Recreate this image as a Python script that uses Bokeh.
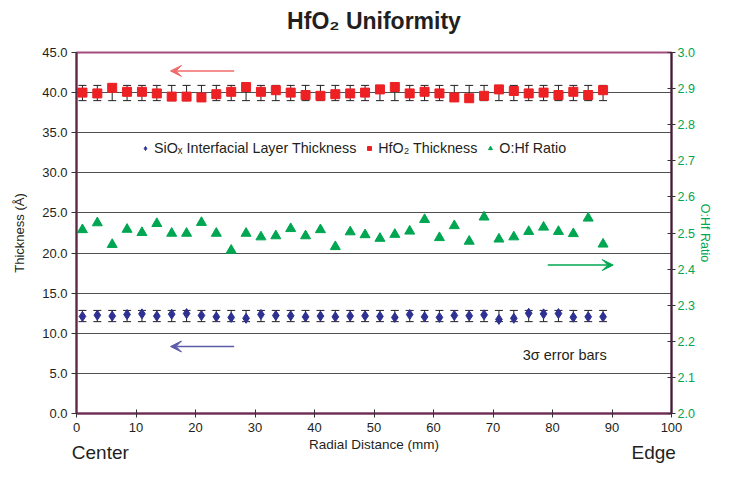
from bokeh.plotting import figure
from bokeh.models import (Range1d, LinearAxis, FixedTicker, Whisker, TeeHead, ColumnDataSource,
                          Legend, LegendItem, Arrow, VeeHead, Label, NumeralTickFormatter, Title)
from bokeh.embed import file_html
from bokeh.resources import INLINE

# ---- data ----
radial_mm = [1.0, 3.5, 6.0, 8.5, 11.0, 13.5, 16.0, 18.5, 21.0, 23.5, 26.0, 28.5,
             31.0, 33.5, 36.0, 38.5, 41.0, 43.5, 46.0, 48.5, 51.0, 53.5, 56.0, 58.5,
             61.0, 63.5, 66.0, 68.5, 71.0, 73.5, 76.0, 78.5, 81.0, 83.5, 86.0, 88.5]

hfo2_thickness = [40.0, 39.9, 40.6, 40.1, 40.1, 39.9, 39.5, 39.5, 39.4, 39.8, 40.1, 40.7,
                  40.1, 40.3, 40.0, 39.7, 39.6, 39.8, 39.9, 40.0, 40.4, 40.7, 39.9, 40.1,
                  39.9, 39.4, 39.3, 39.6, 40.4, 40.2, 39.9, 40.0, 39.7, 40.1, 39.7, 40.3]
hfo2_err_lo = [39.0, 39.0, 39.0, 39.0, 39.0, 39.0, 39.0, 39.0, 39.0, 39.0, 39.0, 39.0,
               39.0, 39.0, 39.0, 39.0, 39.0, 39.0, 39.0, 39.0, 39.0, 39.0, 39.0, 39.0,
               39.0, 39.0, 39.0, 39.0, 39.0, 39.0, 39.0, 39.0, 39.0, 39.0, 39.0, 39.0]
hfo2_err_hi = [40.9, 40.9, 40.9, 40.9, 40.9, 40.9, 40.9, 40.9, 40.9, 40.9, 40.9, 40.9,
               40.9, 40.9, 40.9, 40.9, 40.9, 40.9, 40.9, 40.9, 40.9, 40.9, 40.9, 40.9,
               40.9, 40.9, 40.9, 40.9, 40.9, 40.9, 40.9, 40.9, 40.9, 40.9, 40.9, 40.9]

siox_thickness = [12.1, 12.26, 12.14, 12.34, 12.42, 12.14, 12.38, 12.46, 12.22, 12.05, 11.98, 11.86,
                  12.34, 12.22, 12.18, 12.05, 12.14, 12.05, 12.14, 12.18, 12.1, 11.98, 12.34, 12.05,
                  11.98, 12.22, 12.18, 12.3, 11.73, 11.86, 12.5, 12.42, 12.46, 12.0, 12.05, 12.05]
siox_err_lo = [11.45, 11.45, 11.45, 11.45, 11.45, 11.45, 11.45, 11.45, 11.45, 11.45, 11.45, 11.45,
               11.45, 11.45, 11.45, 11.45, 11.45, 11.45, 11.45, 11.45, 11.45, 11.45, 11.45, 11.45,
               11.45, 11.45, 11.45, 11.45, 11.45, 11.45, 11.45, 11.45, 11.45, 11.45, 11.45, 11.45]
siox_err_hi = [12.85, 12.85, 12.85, 12.85, 12.85, 12.85, 12.85, 12.85, 12.85, 12.85, 12.85, 12.85,
               12.85, 12.85, 12.85, 12.85, 12.85, 12.85, 12.85, 12.85, 12.85, 12.85, 12.85, 12.85,
               12.85, 12.85, 12.85, 12.85, 12.85, 12.85, 12.85, 12.85, 12.85, 12.85, 12.85, 12.85]

ohf_ratio = [2.509, 2.528, 2.468, 2.510, 2.501, 2.526, 2.499, 2.499, 2.529, 2.499, 2.452, 2.499,
             2.489, 2.492, 2.512, 2.492, 2.509, 2.462, 2.503, 2.495, 2.485, 2.496, 2.505, 2.537,
             2.487, 2.520, 2.477, 2.544, 2.483, 2.489, 2.504, 2.516, 2.504, 2.498, 2.541, 2.469]

x_ticks = [0, 10, 20, 30, 40, 50, 60, 70, 80, 90, 100]
left_ticks = [0, 5, 10, 15, 20, 25, 30, 35, 40, 45]
grid_ticks = [5, 10, 15, 20, 25, 30, 35, 40]
right_ticks = [2.0, 2.1, 2.2, 2.3, 2.4, 2.5, 2.6, 2.7, 2.8, 2.9, 3.0]
end_positions = [4.0, 97.0]
end_labels = ["Center", "Edge"]

RED = "#ed2024"
BLUE = "#2e3192"
GREEN = "#00a651"
INK = "#231f20"
FONT = "Liberation Sans"

p = figure(width=714, height=465, output_backend="svg", toolbar_location=None, title=None,
           x_range=Range1d(0, 100), y_range=Range1d(0, 45),
           min_border_left=76, min_border_right=37, min_border_top=47, min_border_bottom=51)
p.extra_y_ranges = {"ratio": Range1d(2.0, 3.0)}

# spacer (closest to frame) then real title
p.add_layout(Title(text=" ", text_font_size="2px"), "above")
p.add_layout(Title(text="HfO\u2082 Uniformity", text_font=FONT, text_font_size="23px",
                   text_font_style="bold", text_color=INK, align="center"), "above")

p.outline_line_color = "#a24f80"
p.outline_line_width = 2
p.background_fill_color = "white"
p.border_fill_color = "white"

p.xgrid.visible = False
p.ygrid.ticker = FixedTicker(ticks=grid_ticks)
p.ygrid.grid_line_color = "#505050"
p.ygrid.grid_line_width = 1

# bottom axis
xa = p.xaxis[0]
xa.ticker = FixedTicker(ticks=x_ticks)
xa.axis_label = "Radial Distance (mm)"
xa.axis_line_color = "#6b2c52"
xa.axis_line_width = 2
xa.major_tick_in = 4
xa.major_tick_out = 4
xa.minor_tick_line_color = None
xa.major_tick_line_color = "#333333"
xa.major_label_standoff = 5
xa.axis_label_standoff = 2
xa.major_label_text_font = FONT
xa.major_label_text_font_size = "13px"
xa.axis_label_text_font = FONT
xa.axis_label_text_font_size = "13.5px"
xa.axis_label_text_font_style = "normal"
xa.major_label_text_color = INK
xa.axis_label_text_color = INK

# second bottom axis carrying the Center / Edge captions
ea = LinearAxis(ticker=FixedTicker(ticks=end_positions),
                major_label_overrides={end_positions[0]: end_labels[0],
                                       end_positions[1]: end_labels[1]})
ea.axis_line_color = None
ea.major_tick_line_color = None
ea.minor_tick_line_color = None
ea.major_tick_in = 0
ea.major_tick_out = 0
ea.major_label_standoff = -13
ea.major_label_text_font = FONT
ea.major_label_text_font_size = "19px"
ea.major_label_text_color = INK
p.add_layout(ea, "below")

# left axis
ya = p.yaxis[0]
ya.ticker = FixedTicker(ticks=left_ticks)
ya.formatter = NumeralTickFormatter(format="0.0")
ya.axis_label = "Thickness (\u00c5)"
ya.axis_line_color = "#5c2846"
ya.axis_line_width = 2
ya.major_tick_in = 0
ya.major_tick_out = 5
ya.minor_tick_line_color = None
ya.major_tick_line_color = "#333333"
ya.major_label_standoff = 4
ya.axis_label_standoff = 12
ya.major_label_text_font = FONT
ya.major_label_text_font_size = "13px"
ya.axis_label_text_font = FONT
ya.axis_label_text_font_size = "13px"
ya.axis_label_text_font_style = "normal"
ya.major_label_text_color = INK
ya.axis_label_text_color = INK

# right axis
ra = LinearAxis(y_range_name="ratio", ticker=FixedTicker(ticks=right_ticks),
                formatter=NumeralTickFormatter(format="0.0"), axis_label="O:Hf Ratio")
ra.axis_line_color = "#3a2030"
ra.axis_line_width = 2
ra.major_tick_in = 4
ra.major_tick_out = 4
ra.minor_tick_line_color = None
ra.major_tick_line_color = "#333333"
ra.major_label_standoff = 2
ra.axis_label_standoff = 0
ra.major_label_text_font = FONT
ra.major_label_text_font_size = "12.5px"
ra.major_label_text_color = GREEN
ra.axis_label_text_font = FONT
ra.axis_label_text_font_size = "12.5px"
ra.axis_label_text_font_style = "normal"
ra.axis_label_text_color = GREEN
p.add_layout(ra, "right")

# error bars
src_h = ColumnDataSource(dict(x=radial_mm, lo=hfo2_err_lo, hi=hfo2_err_hi))
src_s = ColumnDataSource(dict(x=radial_mm, lo=siox_err_lo, hi=siox_err_hi))
for src in (src_h, src_s):
    w = Whisker(source=src, base="x", lower="lo", upper="hi", dimension="height",
                line_color=INK, line_width=1,
                upper_head=TeeHead(size=8, line_color=INK, line_width=1),
                lower_head=TeeHead(size=8, line_color=INK, line_width=1),
                level="underlay")
    p.add_layout(w)

r_s = p.scatter(radial_mm, siox_thickness, marker="diamond", size=10, color=BLUE)
r_h = p.scatter(radial_mm, hfo2_thickness, marker="square", size=9, color=RED)
r_r = p.scatter(radial_mm, ohf_ratio, marker="triangle", size=10, color=GREEN,
                y_range_name="ratio")

legend = Legend(items=[
    LegendItem(label="SiO\u2093 Interfacial Layer Thickness", renderers=[r_s]),
    LegendItem(label="HfO\u2082 Thickness", renderers=[r_h]),
    LegendItem(label="O:Hf Ratio", renderers=[r_r]),
], orientation="horizontal", location=(64, 257))
legend.background_fill_alpha = 0
legend.border_line_color = None
legend.label_text_font = FONT
legend.label_text_font_size = "14.3px"
legend.label_text_color = INK
legend.glyph_width = 10
legend.glyph_height = 10
legend.label_standoff = 4
legend.spacing = 8
legend.padding = 2
legend.margin = 0
p.add_layout(legend, "center")

# direction arrows
p.add_layout(Arrow(end=VeeHead(size=11, fill_color="#f26b6b", line_color="#f26b6b"),
                   x_start=26.5, y_start=42.7, x_end=15.8, y_end=42.7,
                   line_color="#f26b6b", line_width=1.5))
p.add_layout(Arrow(end=VeeHead(size=11, fill_color="#5b5ba8", line_color="#5b5ba8"),
                   x_start=26.5, y_start=8.35, x_end=15.8, y_end=8.35,
                   line_color="#5b5ba8", line_width=1.5))
p.add_layout(Arrow(end=VeeHead(size=11, fill_color=GREEN, line_color=GREEN),
                   x_start=79.2, y_start=18.5, x_end=90.2, y_end=18.5,
                   line_color=GREEN, line_width=1.5))

p.add_layout(Label(x=75.0, y=7.23, text="3\u03c3 error bars", text_font=FONT,
                   text_font_size="14.5px", text_color=INK, text_baseline="middle"))

open("out.html", "w").write(file_html(p, INLINE))
